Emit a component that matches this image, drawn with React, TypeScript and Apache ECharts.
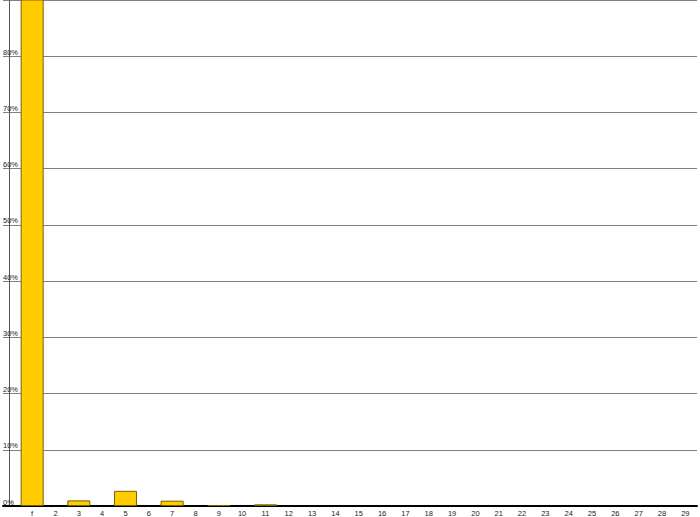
import { useEffect, useRef } from "react";
import * as echarts from "echarts";

// x categories (tick labels) and share of each, in %
const labels = [
  "f", "2", "3", "4", "5", "6", "7", "8", "9", "10",
  "11", "12", "13", "14", "15", "16", "17", "18", "19", "20",
  "21", "22", "23", "24", "25", "26", "27", "28", "29",
];
const shares = [
  95, 0, 1.0, 0, 2.7, 0, 0.95, 0, 0.18, 0,
  0.3, 0, 0, 0, 0, 0, 0, 0, 0, 0,
  0, 0, 0, 0, 0, 0, 0, 0, 0,
];

const FONT = "'Liberation Sans', Arial, sans-serif";

export default function App() {
  const ref = useRef<HTMLDivElement | null>(null);

  useEffect(() => {
    const el = ref.current!;
    const chart = echarts.init(el, undefined, { renderer: "svg" });

    chart.setOption({
      animation: false,
      backgroundColor: "#ffffff",
      grid: { left: 1.5, right: 0, top: -2, bottom: 11 },
      xAxis: {
        type: "value",
        min: -0.25,
        max: 29.5,
        interval: 0.25,
        splitLine: { show: false },
        axisTick: { show: false },
        axisLine: { show: true, onZero: false, lineStyle: { color: "#000", width: 2 } },
        axisLabel: {
          margin: 3,
          fontSize: 7.5,
          fontFamily: FONT,
          color: "#222",
          showMinLabel: true,
          showMaxLabel: true,
          formatter: (v: number) => {
            const r = Math.round(v);
            if (Math.abs(v - r) < 1e-6 && r >= 1 && r <= labels.length) return labels[r - 1];
            return "";
          },
        },
      },
      yAxis: {
        type: "value",
        min: 0,
        max: 90,
        interval: 10,
        axisLine: { show: true, lineStyle: { color: "#555", width: 1 } },
        axisTick: { show: false },
        splitLine: { show: true, lineStyle: { color: "#808080", width: 1 } },
        axisLabel: {
          inside: true,
          margin: 0,
          align: "left",
          verticalAlign: "bottom",
          padding: [0, 0, 0, 0],
          fontSize: 7.5,
          fontFamily: FONT,
          color: "#222",
          showMaxLabel: false,
          formatter: (v: number) => `${v}%`,
        },
      },
      series: [{
        type: "bar",
        // empty categories draw no mark
        data: shares.map((s, i) => [i + 1, s > 0 ? s : null]),
        barWidth: 23,
        clip: true,
        itemStyle: { color: "#FFCC00", borderColor: "#7a6000", borderWidth: 1 },
      }],
    });

    return () => { chart.dispose(); };
  }, []);

  return (
    <div
      ref={ref}
      style={{ position: "fixed", left: 0, top: 0, width: 700, height: 517 }}
    />
  );
}
